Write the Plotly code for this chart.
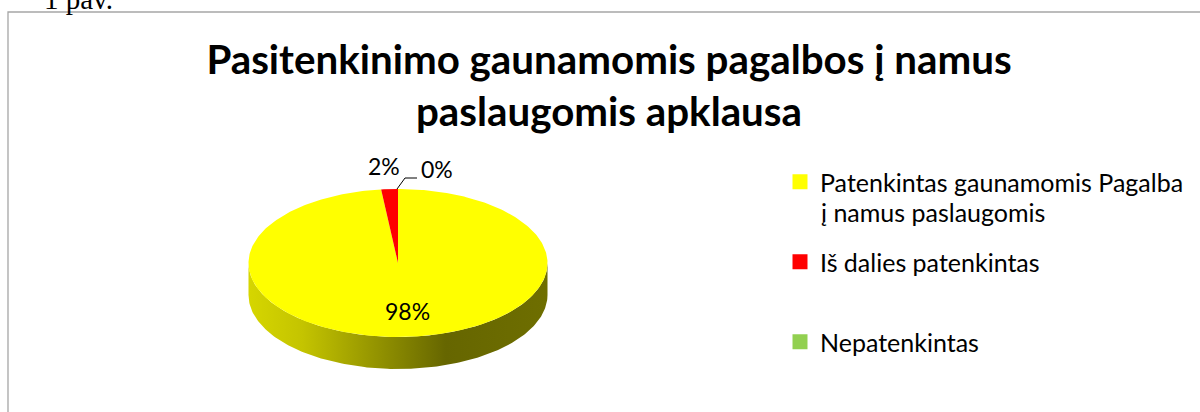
import numpy as np
import plotly.graph_objects as go

CATEGORIES = ["Patenkintas gaunamomis Pagalba", "Iš dalies patenkintas", "Nepatenkintas"]
CATEGORY_CONTINUATION = "į namus paslaugomis"
VALUES = [98.2, 1.8, 0.0]
COLORS = ["#FFFF00", "#FF0000", "#92D050"]
TITLE = "Pasitenkinimo gaunamomis pagalbos į namus<br>paslaugomis apklausa"
CX, CY, RX, RY, DEPTH = 398, 263, 149.5, 74, 32
FONT = "Lato"

def ell(theta, dy=0):
    return CX + RX * np.sin(theta), CY - RY * np.cos(theta) + dy

fig = go.Figure()

# side wall (front half of the disc)
t = np.linspace(np.pi / 2, 3 * np.pi / 2, 181)
x1, y1 = ell(t)
x2, y2 = ell(t[::-1], DEPTH)
fig.add_trace(go.Scatter(
    x=np.r_[x1, x2], y=np.r_[y1, y2], mode="lines", line=dict(width=0), fill="toself",
    fillgradient=dict(type="horizontal", start=CX - RX, stop=CX + RX,
                      colorscale=[[0, "#D6D600"], [0.18, "#C4C400"], [0.66, "#666600"], [1, "#6E6E00"]]),
    showlegend=False, hoverinfo="skip"))

# top face slices
total = sum(VALUES)
a = 0.0
for name, v, c in zip(CATEGORIES, VALUES, COLORS):
    b = a + v / total * 2 * np.pi
    if v > 0:
        t = np.linspace(a, b, max(3, int(v * 4)))
        x, y = ell(t)
        fig.add_trace(go.Scatter(x=np.r_[CX, x, CX], y=np.r_[CY, y, CY], mode="lines",
                                 line=dict(width=0), fill="toself", fillcolor=c,
                                 showlegend=False, hoverinfo="skip"))
    a = b

# legend entries
for name, c in zip(CATEGORIES, COLORS):
    fig.add_trace(go.Scatter(x=[None], y=[None], mode="markers", name=name, legendgroup=name,
                             marker=dict(symbol="square", size=15, color=c)))

# leader line of the 0% label
fig.add_shape(type="path", path="M 397 189 L 405 178 L 417 178", line=dict(color="#000000", width=1))
# chart frame
fig.add_shape(type="rect", x0=8, y0=12, x1=1300, y1=500, line=dict(color="#A6A6A6", width=1.3))

labels = [(407, 311), (384, 166), (437, 169)]
for (lx, ly), v in zip(labels, VALUES):
    fig.add_annotation(x=lx, y=ly, text=f"{round(v / total * 100)}%", showarrow=False,
                       font=dict(family=FONT, size=23, color="#000000"))

fig.add_annotation(x=820, y=212, xanchor="left", yanchor="middle", text=CATEGORY_CONTINUATION, showarrow=False,
                   xshift=-1, font=dict(family=FONT, size=25, color="#000000"))

fig.add_annotation(x=42, y=17, xanchor="left", yanchor="bottom", text="1 pav.", showarrow=False,
                   font=dict(family="Liberation Serif", size=29, color="#000000"), align="left")

fig.update_layout(
    width=1200, height=412, margin=dict(l=0, r=0, t=0, b=0), autosize=False,
    paper_bgcolor="#FFFFFF", plot_bgcolor="#FFFFFF",
    xaxis=dict(range=[0, 1200], visible=False, fixedrange=True),
    yaxis=dict(range=[412, 0], visible=False, fixedrange=True),
    title=dict(text=TITLE, x=609 / 1200, xanchor="center", y=0.821, yanchor="middle",
               font=dict(family=FONT, size=40.3, color="#000000", weight="bold")),
    legend=dict(x=780 / 1200, y=1 - 159 / 412, xanchor="left", yanchor="top",
                font=dict(family=FONT, size=25, color="#000000"), tracegroupgap=44.5,
                bgcolor="rgba(0,0,0,0)"),
)
fig.write_html("out.html", post_script="document.body.style.margin='0';",
               config={"displayModeBar": False})
